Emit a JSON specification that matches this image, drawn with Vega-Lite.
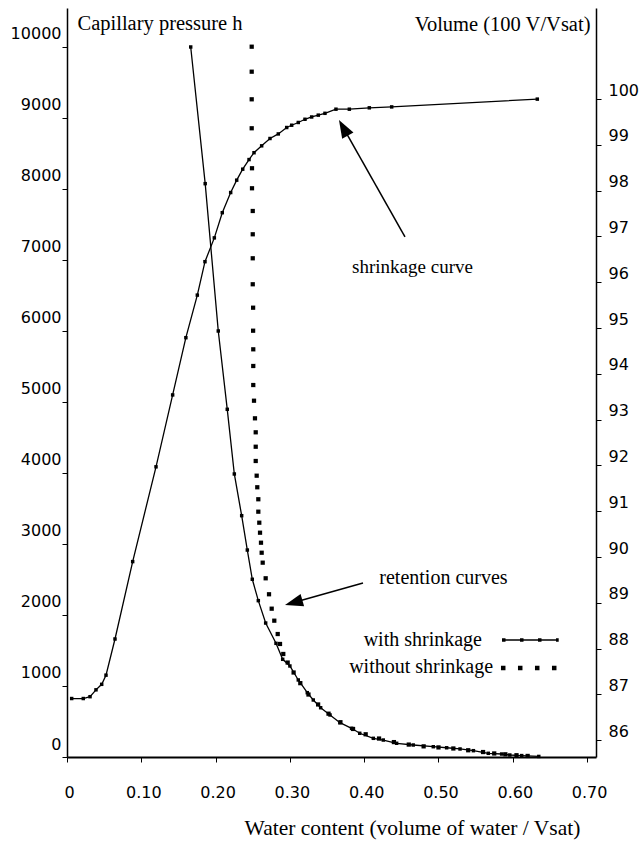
{
  "$schema": "https://vega.github.io/schema/vega-lite/v6.json",
  "width": 529,
  "height": 749,
  "autosize": {"type": "none"},
  "padding": {"left": 67, "top": 8, "right": 46, "bottom": 84},
  "background": "white",
  "config": {
    "view": {"stroke": null},
    "axis": {"grid": false, "domainColor": "black", "tickColor": "black", "labelColor": "black", "titleColor": "black", "labelFont": "DejaVu Sans", "labelFontSize": 16, "titleFont": "Liberation Serif", "titleFontSize": 20.5, "titleFontWeight": "normal", "labelFlush": false, "labelOverlap": false, "labelBound": false}
  },
  "datasets": {
    "retention": [
      {"theta": 0.1665, "h": 10000}, {"theta": 0.186, "h": 8075}, {"theta": 0.2036, "h": 6000},
      {"theta": 0.2157, "h": 4897}, {"theta": 0.2252, "h": 3986}, {"theta": 0.2351, "h": 3399},
      {"theta": 0.2427, "h": 2915}, {"theta": 0.2494, "h": 2503}, {"theta": 0.2575, "h": 2202},
      {"theta": 0.2674, "h": 1887}, {"theta": 0.2813, "h": 1601}, {"theta": 0.2903, "h": 1376},
      {"theta": 0.300, "h": 1282}, {"theta": 0.3113, "h": 1085}, {"theta": 0.3234, "h": 906},
      {"theta": 0.3315, "h": 803}, {"theta": 0.3414, "h": 694}, {"theta": 0.354, "h": 592},
      {"theta": 0.3674, "h": 483}, {"theta": 0.383, "h": 404}, {"theta": 0.394, "h": 334},
      {"theta": 0.4123, "h": 263}, {"theta": 0.4257, "h": 239}, {"theta": 0.4437, "h": 193},
      {"theta": 0.466, "h": 169}, {"theta": 0.493, "h": 145}, {"theta": 0.511, "h": 130},
      {"theta": 0.529, "h": 113}, {"theta": 0.547, "h": 89}, {"theta": 0.567, "h": 52},
      {"theta": 0.585, "h": 42}, {"theta": 0.596, "h": 28}, {"theta": 0.612, "h": 20},
      {"theta": 0.635, "h": 8}
    ],
    "noshrink": [
      {"theta": 0.2486, "h": 10004}, {"theta": 0.2486, "h": 9652}, {"theta": 0.2486, "h": 9263},
      {"theta": 0.2486, "h": 8855}, {"theta": 0.2490, "h": 8292}, {"theta": 0.2490, "h": 8010},
      {"theta": 0.2500, "h": 7690}, {"theta": 0.2500, "h": 7362}, {"theta": 0.2500, "h": 7024},
      {"theta": 0.2500, "h": 6658}, {"theta": 0.2505, "h": 6328}, {"theta": 0.2505, "h": 6004},
      {"theta": 0.2507, "h": 5742}, {"theta": 0.2507, "h": 5507}, {"theta": 0.2507, "h": 5239},
      {"theta": 0.2517, "h": 5018}, {"theta": 0.2530, "h": 4770}, {"theta": 0.2540, "h": 4573},
      {"theta": 0.2540, "h": 4370}, {"theta": 0.2540, "h": 4169}, {"theta": 0.2553, "h": 3962},
      {"theta": 0.2561, "h": 3799}, {"theta": 0.2575, "h": 3630}, {"theta": 0.2575, "h": 3455},
      {"theta": 0.2588, "h": 3300}, {"theta": 0.2598, "h": 3159}, {"theta": 0.2611, "h": 3018},
      {"theta": 0.2620, "h": 2877}, {"theta": 0.2634, "h": 2737}, {"theta": 0.2674, "h": 2517},
      {"theta": 0.2719, "h": 2292}, {"theta": 0.2755, "h": 2089}, {"theta": 0.2790, "h": 1920},
      {"theta": 0.2836, "h": 1732}, {"theta": 0.2867, "h": 1592}, {"theta": 0.2911, "h": 1451},
      {"theta": 0.297, "h": 1330}, {"theta": 0.305, "h": 1190}, {"theta": 0.314, "h": 1040},
      {"theta": 0.325, "h": 880}, {"theta": 0.338, "h": 740}, {"theta": 0.352, "h": 610},
      {"theta": 0.368, "h": 490}, {"theta": 0.385, "h": 395}, {"theta": 0.402, "h": 320},
      {"theta": 0.42, "h": 260}, {"theta": 0.44, "h": 210}, {"theta": 0.46, "h": 175},
      {"theta": 0.48, "h": 150}, {"theta": 0.50, "h": 135}, {"theta": 0.52, "h": 120},
      {"theta": 0.54, "h": 95}, {"theta": 0.56, "h": 70}, {"theta": 0.575, "h": 50},
      {"theta": 0.59, "h": 38}, {"theta": 0.605, "h": 25}, {"theta": 0.62, "h": 15}
    ],
    "volume": [
      {"theta": 0.0063, "v": 86.91}, {"theta": 0.0219, "v": 86.91}, {"theta": 0.031, "v": 86.95},
      {"theta": 0.039, "v": 87.10}, {"theta": 0.0467, "v": 87.22}, {"theta": 0.0525, "v": 87.42},
      {"theta": 0.0646, "v": 88.21}, {"theta": 0.0884, "v": 89.90}, {"theta": 0.1198, "v": 91.97},
      {"theta": 0.1422, "v": 93.54}, {"theta": 0.160, "v": 94.79}, {"theta": 0.1754, "v": 95.72},
      {"theta": 0.1857, "v": 96.45}, {"theta": 0.1983, "v": 96.97}, {"theta": 0.2090, "v": 97.52},
      {"theta": 0.2203, "v": 97.96}, {"theta": 0.2284, "v": 98.23}, {"theta": 0.2365, "v": 98.47},
      {"theta": 0.2450, "v": 98.68}, {"theta": 0.2517, "v": 98.83}, {"theta": 0.2620, "v": 98.98},
      {"theta": 0.2732, "v": 99.14}, {"theta": 0.2844, "v": 99.24}, {"theta": 0.2957, "v": 99.38},
      {"theta": 0.3024, "v": 99.43}, {"theta": 0.3113, "v": 99.49}, {"theta": 0.3203, "v": 99.56},
      {"theta": 0.3293, "v": 99.61}, {"theta": 0.3382, "v": 99.65}, {"theta": 0.3472, "v": 99.69},
      {"theta": 0.3620, "v": 99.78}, {"theta": 0.3800, "v": 99.78}, {"theta": 0.4069, "v": 99.81},
      {"theta": 0.4370, "v": 99.83}, {"theta": 0.6330, "v": 100.0}
    ],
    "one": [{}]
  },
  "layer": [
    {
      "layer": [
        {
          "data": {"name": "retention"},
          "mark": {"type": "line", "color": "black", "strokeWidth": 1.3, "point": {"shape": "square", "size": 12, "filled": true, "color": "black"}},
          "encoding": {
            "x": {"field": "theta", "type": "quantitative", "scale": {"domain": [0, 0.712], "nice": false, "zero": false},
              "axis": {"orient": "bottom", "values": [0, 0.05, 0.1, 0.15, 0.2, 0.25, 0.3, 0.35, 0.4, 0.45, 0.5, 0.55, 0.6, 0.65, 0.7],
                "labelExpr": "datum.value == 0 ? '0' : (round(datum.value * 100) % 10 == 0 ? format(datum.value, '.2f') : '')",
                "tickSize": 5, "labelPadding": 22, "labelOffset": 2, "domainWidth": 2,
                "title": "Water content (volume of water / Vsat)", "titleFontSize": 21.5, "titleX": 345, "titleY": 77, "titleAlign": "center", "titleBaseline": "alphabetic", "titleAnchor": null}},
            "y": {"field": "h", "type": "quantitative", "scale": {"domain": [0, 10549], "nice": false, "zero": false},
              "axis": {"orient": "left", "values": [0, 1000, 2000, 3000, 4000, 5000, 6000, 7000, 8000, 9000, 10000], "format": "d",
                "tickSize": 5, "labelPadding": 1, "labelOffset": -13, "domainWidth": 1.5,
                "title": "Capillary pressure h", "titleAngle": 0, "titleX": 10, "titleY": 21, "titleAlign": "left", "titleBaseline": "alphabetic", "titleAnchor": null}}
          }
        },
        {
          "data": {"name": "noshrink"},
          "mark": {"type": "point", "shape": "square", "size": 18, "filled": true, "color": "black", "opacity": 1},
          "encoding": {
            "x": {"field": "theta", "type": "quantitative"},
            "y": {"field": "h", "type": "quantitative"}
          }
        },
        {
          "data": {"name": "one"},
          "mark": {"type": "text", "text": "shrinkage curve", "font": "Liberation Serif", "fontSize": 19, "align": "center", "baseline": "middle", "color": "black"},
          "encoding": {"x": {"datum": 0.465}, "y": {"datum": 6901}}
        },
        {
          "data": {"name": "one"},
          "mark": {"type": "text", "text": "retention curves", "font": "Liberation Serif", "fontSize": 20, "align": "center", "baseline": "middle", "color": "black"},
          "encoding": {"x": {"datum": 0.5067}, "y": {"datum": 2521}}
        },
        {
          "data": {"name": "one"},
          "mark": {"type": "text", "text": "with shrinkage", "font": "Liberation Serif", "fontSize": 20, "align": "right", "baseline": "middle", "color": "black"},
          "encoding": {"x": {"datum": 0.5585}, "y": {"datum": 1648}}
        },
        {
          "data": {"name": "one"},
          "mark": {"type": "text", "text": "without shrinkage", "font": "Liberation Serif", "fontSize": 20, "align": "right", "baseline": "middle", "color": "black"},
          "encoding": {"x": {"datum": 0.5734}, "y": {"datum": 1268}}
        },
        {
          "data": {"name": "one"},
          "mark": {"type": "rule", "color": "black", "strokeWidth": 1.5},
          "encoding": {"x": {"datum": 0.4549}, "y": {"datum": 7324}, "x2": {"datum": 0.372}, "y2": {"datum": 8862}}
        },
        {
          "data": {"name": "one"},
          "mark": {"type": "point", "shape": "M0,-1L0.72,1L-0.72,1Z", "size": 324, "filled": true, "color": "black", "opacity": 1, "angle": 330.6},
          "encoding": {"x": {"datum": 0.372}, "y": {"datum": 8862}}
        },
        {
          "data": {"name": "one"},
          "mark": {"type": "rule", "color": "black", "strokeWidth": 1.5},
          "encoding": {"x": {"datum": 0.3984}, "y": {"datum": 2451}, "x2": {"datum": 0.3051}, "y2": {"datum": 2175}}
        },
        {
          "data": {"name": "one"},
          "mark": {"type": "point", "shape": "M0,-1L0.72,1L-0.72,1Z", "size": 324, "filled": true, "color": "black", "opacity": 1, "angle": 254.25},
          "encoding": {"x": {"datum": 0.3051}, "y": {"datum": 2175}}
        },
        {
          "data": {"name": "one"},
          "mark": {"type": "rule", "color": "black", "strokeWidth": 1.3},
          "encoding": {"x": {"datum": 0.5855}, "y": {"datum": 1648}, "x2": {"datum": 0.6595}}
        },
        {
          "data": {"name": "one"},
          "mark": {"type": "rule", "color": "black", "strokeWidth": 3.5, "strokeDash": [3.5, 14.5]},
          "encoding": {"x": {"datum": 0.5855}, "y": {"datum": 1648}, "x2": {"datum": 0.6618}}
        },
        {
          "data": {"name": "one"},
          "mark": {"type": "rule", "color": "black", "strokeWidth": 4.5, "strokeDash": [4.5, 12.5]},
          "encoding": {"x": {"datum": 0.5841}, "y": {"datum": 1254}, "x2": {"datum": 0.6588}}
        }
      ]
    },
    {
      "data": {"name": "volume"},
      "mark": {"type": "line", "color": "black", "strokeWidth": 1.3, "point": {"shape": "square", "size": 12, "filled": true, "color": "black"}},
      "encoding": {
        "x": {"field": "theta", "type": "quantitative"},
        "y": {"field": "v", "type": "quantitative", "scale": {"domain": [85.633, 101.99], "nice": false, "zero": false},
          "axis": {"orient": "right", "values": [86, 87, 88, 89, 90, 91, 92, 93, 94, 95, 96, 97, 98, 99, 100], "format": "d",
            "tickSize": 5, "labelPadding": 7, "labelOffset": -9, "domainWidth": 1.5,
            "title": "Volume (100 V/Vsat)", "titleAngle": 0, "titleX": -6, "titleY": 22, "titleAlign": "right", "titleBaseline": "alphabetic", "titleAnchor": null}}
      }
    }
  ],
  "resolve": {"scale": {"y": "independent"}, "axis": {"y": "independent"}}
}
